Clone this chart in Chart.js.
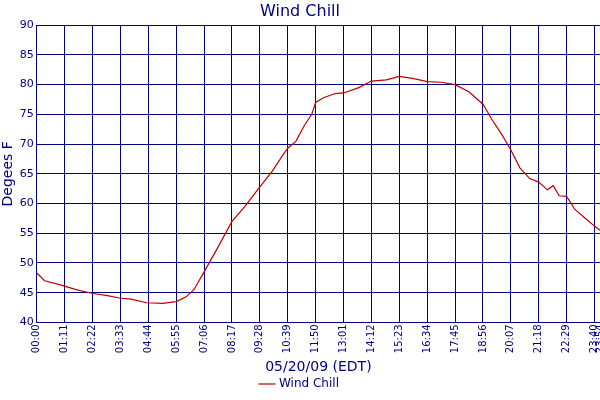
<!DOCTYPE html>
<html><head><script src="https://cdn.jsdelivr.net/npm/chart.js@4"></script>
<style>body{margin:0;background:#fff}#wrap{width:600px;height:400px}</style></head>
<body><div id="wrap"><canvas id="myChart"></canvas></div>
<script>
// minutes since midnight, degrees F
const minutes = [0,20,60,100,140,180,210,240,280,320,355,380,400,426,460,497,530,568,600,625,639,660,680,700,710,730,760,781,820,852,890,923,960,994,1030,1065,1100,1136,1160,1185,1207,1230,1255,1278,1300,1315,1330,1349,1370,1400,1420,1434];
const windChill = [48.3,47,46.3,45.5,44.9,44.5,44.1,43.9,43.3,43.2,43.5,44.3,45.5,48.5,52.5,57,59.5,62.8,65.5,68,69.3,70.5,73,75,77,77.8,78.5,78.6,79.5,80.6,80.8,81.4,81,80.5,80.4,80,78.8,76.7,74,71.5,69,66,64.2,63.6,62.3,63,61.3,61.2,59,57.3,56.2,55.5];
const tickMinutes = [0,71,142,213,284,355,426,497,568,639,710,781,852,923,994,1065,1136,1207,1278,1349,1420,1434];
const navy = '#000080';
const fmt = m => String(Math.floor(m/60)).padStart(2,'0') + ':' + String(m%60).padStart(2,'0');

new Chart(document.getElementById('myChart'), {
  type: 'line',
  data: {
    datasets: [{
      label: 'Wind Chill',
      data: minutes.map((m, i) => ({x: m, y: windChill[i]})),
      borderColor: '#c00000',
      backgroundColor: '#c00000',
      borderWidth: 1.2,
      pointRadius: 0,
      tension: 0
    }]
  },
  options: {
    responsive: true,
    maintainAspectRatio: false,
    animation: false,
    layout: {padding: {right: 0, left: 0, bottom: 0}},
    plugins: {
      title: {display: true, text: 'Wind Chill', color: navy, font: {family: 'DejaVu Sans', size: 16, weight: 'normal'}, padding: {top: 2, bottom: 4}},
      legend: {position: 'bottom', labels: {usePointStyle: true, pointStyle: 'line', color: navy, boxWidth: 12, font: {family: 'DejaVu Sans', size: 12}, padding: 2}}
    },
    scales: {
      x: {
        type: 'linear', min: 0, max: 1434, offset: false,
        afterBuildTicks: axis => { axis.ticks = tickMinutes.map(v => ({value: v})); },
        afterFit: axis => { axis.paddingRight = 0; },
        ticks: {color: navy, autoSkip: false, maxRotation: 90, minRotation: 90, font: {family: 'DejaVu Sans', size: 10}, padding: 2, callback: v => fmt(v)},
        grid: {color: navy, tickLength: 0},
        border: {color: navy},
        title: {display: true, text: '05/20/09 (EDT)', color: navy, font: {family: 'DejaVu Sans', size: 14}, padding: {top: 4, bottom: 0}}
      },
      y: {
        min: 40, max: 90,
        ticks: {stepSize: 5, color: navy, font: {family: 'DejaVu Sans', size: 11}, padding: 3},
        grid: {color: navy, tickLength: 0},
        border: {color: navy},
        title: {display: true, text: 'Degees F', color: navy, font: {family: 'DejaVu Sans', size: 14}, padding: 0}
      }
    }
  }
});
</script></body></html>
